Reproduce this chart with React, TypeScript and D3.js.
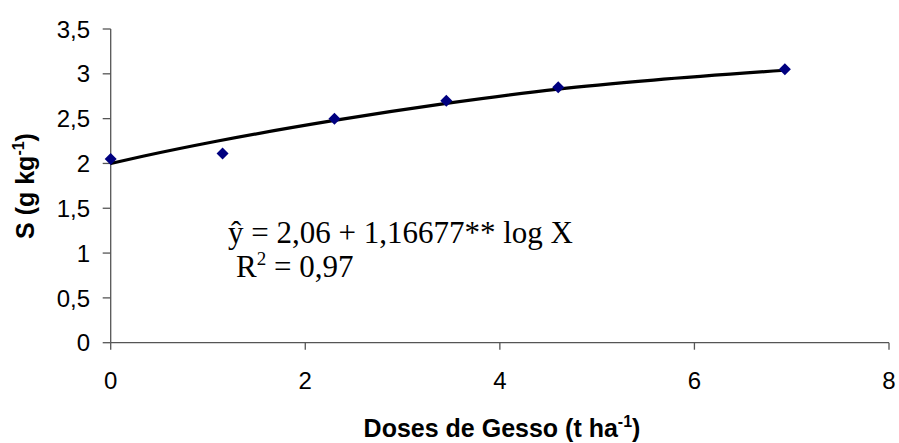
import React from "react";
import * as d3 from "d3";

const doses = [0, 1.15, 2.3, 3.45, 4.6, 6.93];
const sValues = [2.05, 2.11, 2.5, 2.7, 2.85, 3.05];
const trendX = [0, 0.33, 1.1, 2.3, 3.45, 4.6, 5.58, 6.93];
const trendY = [2.0, 2.08, 2.25, 2.48, 2.67, 2.83, 2.93, 3.04];
const xTicks = [0, 2, 4, 6, 8];
const yTicks = [0, 0.5, 1, 1.5, 2, 2.5, 3, 3.5];

const W = 899;
const H = 443;
const x = d3.scaleLinear().domain([0, 8]).range([110.7, 889]);
const y = d3.scaleLinear().domain([0, 3.5]).range([342.7, 29]);
const fmt = (v: number) => String(v).replace(".", ",");

export default function App() {
  const line = d3
    .line<number>()
    .x((_, i) => x(trendX[i]))
    .y((d) => y(d))
    .curve(d3.curveMonotoneX)(trendY) as string;
  const diamond = (cx: number, cy: number, r: number) =>
    `M${cx},${cy - r}L${cx + r},${cy}L${cx},${cy + r}L${cx - r},${cy}Z`;
  const sans = "'Liberation Sans', Arial, sans-serif";
  const serif = "'Liberation Serif', 'Times New Roman', serif";
  return (
    <svg width={W} height={H} style={{ position: "absolute", left: 0, top: 0, background: "#fff" }}>
      <rect width={W} height={H} fill="#fff" />
      {/* axes */}
      <line x1={x(0)} x2={x(0)} y1={y(3.5)} y2={y(0)} stroke="#555" strokeWidth={1.3} />
      <line x1={x(0)} x2={x(8)} y1={y(0)} y2={y(0)} stroke="#555" strokeWidth={1.3} />
      {yTicks.map((t) => (
        <g key={"y" + t}>
          <line x1={x(0) - 8} x2={x(0)} y1={y(t)} y2={y(t)} stroke="#555" strokeWidth={1.3} />
          <text x={90} y={y(t)} dy="0.36em" textAnchor="end" fontFamily={sans} fontSize={24} fill="#000">
            {fmt(t)}
          </text>
        </g>
      ))}
      {xTicks.map((t) => (
        <g key={"x" + t}>
          <line x1={x(t)} x2={x(t)} y1={y(0)} y2={y(0) + 7} stroke="#555" strokeWidth={1.3} />
          <text x={x(t)} y={389} textAnchor="middle" fontFamily={sans} fontSize={24} fill="#000">
            {t}
          </text>
        </g>
      ))}
      {/* trend */}
      <path d={line} fill="none" stroke="#000" strokeWidth={3.2} />
      {/* points */}
      {doses.map((d, i) => (
        <path key={"p" + i} d={diamond(x(d), y(sValues[i]), 6)} fill="#000080" />
      ))}
      {/* equation */}
      <text x={228} y={243} fontFamily={serif} fontSize={31} fill="#000">
        ŷ = 2,06 + 1,16677** log X
      </text>
      <text x={236} y={277} fontFamily={serif} fontSize={31} fill="#000">
        R<tspan dy={-12} fontSize={19}>2</tspan>
        <tspan dy={12}> = 0,97</tspan>
      </text>
      {/* axis titles */}
      <text x={502} y={437} textAnchor="middle" fontFamily={sans} fontWeight="bold" fontSize={25} fill="#000">
        Doses de Gesso (t ha<tspan dy={-10} fontSize={16}>-1</tspan>
        <tspan dy={10}>)</tspan>
      </text>
      <text
        transform="translate(34,186) rotate(-90)"
        textAnchor="middle"
        fontFamily={sans}
        fontWeight="bold"
        fontSize={25}
        fill="#000"
      >
        S (g kg<tspan dy={-10} fontSize={16}>-1</tspan>
        <tspan dy={10}>)</tspan>
      </text>
    </svg>
  );
}
